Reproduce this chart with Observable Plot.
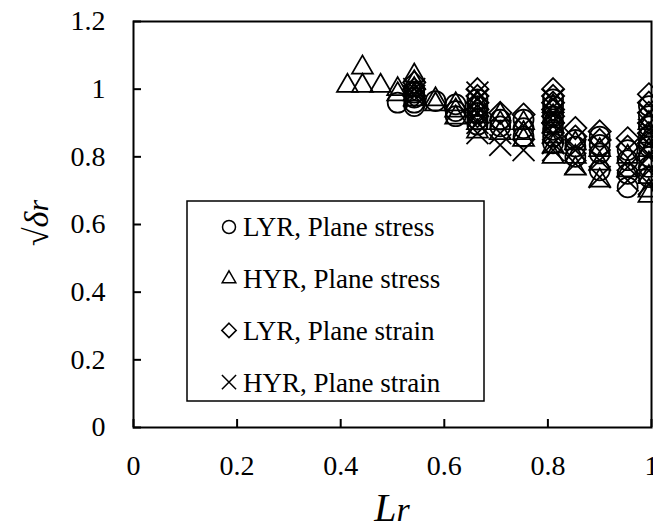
<!DOCTYPE html>
<html>
<head>
<meta charset="utf-8">
<script src="https://cdn.jsdelivr.net/npm/d3@7"></script>
<script src="https://cdn.jsdelivr.net/npm/@observablehq/plot@0.6"></script>
<style>
  html, body { margin: 0; padding: 0; background: #fff; }
  #chart { width: 653px; height: 528px; overflow: hidden; }
</style>
</head>
<body>
<div id="chart"></div>
<script>
// Axis ticks
const xTickValues = [0, 0.2, 0.4, 0.6, 0.8, 1];
const yTickValues = [0, 0.2, 0.4, 0.6, 0.8, 1, 1.2];

// Series: [Lr, sqrt(delta_r)]
const lyrPlaneStress = [
  [0.51, 0.96],
  [0.542, 0.99], [0.542, 0.975], [0.542, 0.96], [0.542, 0.95],
  [0.583, 0.965],
  [0.622, 0.955], [0.622, 0.935], [0.622, 0.92],
  [0.664, 0.97], [0.664, 0.95], [0.664, 0.93], [0.664, 0.91], [0.664, 0.895],
  [0.708, 0.91], [0.708, 0.89],
  [0.753, 0.91], [0.753, 0.885], [0.753, 0.86],
  [0.81, 0.97], [0.81, 0.95], [0.81, 0.92], [0.81, 0.9], [0.81, 0.88], [0.81, 0.86], [0.81, 0.84],
  [0.853, 0.85], [0.853, 0.83], [0.853, 0.8],
  [0.9, 0.86], [0.9, 0.835], [0.9, 0.81], [0.9, 0.76],
  [0.954, 0.82], [0.954, 0.79], [0.954, 0.75], [0.954, 0.71],
  [0.995, 0.95], [0.995, 0.92], [0.995, 0.89], [0.995, 0.86], [0.995, 0.83], [0.995, 0.8], [0.995, 0.77], [0.995, 0.74]
];
const hyrPlaneStress = [
  [0.413, 1.01],
  [0.442, 1.064], [0.442, 1.01],
  [0.477, 1.01],
  [0.51, 1.0], [0.51, 0.985],
  [0.542, 1.04], [0.542, 1.02], [0.542, 1.0], [0.542, 0.985], [0.542, 0.97],
  [0.583, 0.97], [0.583, 0.955],
  [0.622, 0.955], [0.622, 0.937], [0.622, 0.916],
  [0.664, 0.96], [0.664, 0.94], [0.664, 0.92], [0.664, 0.9], [0.664, 0.875],
  [0.708, 0.925], [0.708, 0.9], [0.708, 0.87],
  [0.753, 0.9], [0.753, 0.87], [0.753, 0.85],
  [0.81, 0.95], [0.81, 0.92], [0.81, 0.89], [0.81, 0.86], [0.81, 0.83], [0.81, 0.8],
  [0.853, 0.84], [0.853, 0.8], [0.853, 0.765],
  [0.9, 0.82], [0.9, 0.78], [0.9, 0.73],
  [0.954, 0.8], [0.954, 0.76],
  [0.995, 0.9], [0.995, 0.86], [0.995, 0.82], [0.995, 0.78], [0.995, 0.74], [0.995, 0.7], [0.995, 0.685]
];
const lyrPlaneStrain = [
  [0.542, 1.02], [0.542, 1.0], [0.542, 0.98],
  [0.664, 1.0], [0.664, 0.98], [0.664, 0.96], [0.664, 0.94], [0.664, 0.92],
  [0.708, 0.93],
  [0.753, 0.925],
  [0.81, 1.0], [0.81, 0.98], [0.81, 0.96], [0.81, 0.94], [0.81, 0.92], [0.81, 0.9],
  [0.853, 0.885], [0.853, 0.86],
  [0.9, 0.875], [0.9, 0.85],
  [0.954, 0.855], [0.954, 0.83],
  [0.995, 0.985], [0.995, 0.96], [0.995, 0.93], [0.995, 0.9], [0.995, 0.87], [0.995, 0.84]
];
const hyrPlaneStrain = [
  [0.542, 1.0], [0.542, 0.98],
  [0.664, 0.99], [0.664, 0.97], [0.664, 0.93], [0.664, 0.9], [0.664, 0.87],
  [0.708, 0.87], [0.708, 0.835],
  [0.753, 0.82],
  [0.81, 0.97], [0.81, 0.93], [0.81, 0.9], [0.81, 0.87], [0.81, 0.84], [0.81, 0.82],
  [0.853, 0.82], [0.853, 0.78],
  [0.9, 0.79], [0.9, 0.74],
  [0.954, 0.77], [0.954, 0.73],
  [0.995, 0.93], [0.995, 0.88], [0.995, 0.84], [0.995, 0.8], [0.995, 0.76], [0.995, 0.72]
];

const seriesNames = ["LYR, Plane stress", "HYR, Plane stress", "LYR, Plane strain", "HYR, Plane strain"];
const seriesData = [lyrPlaneStress, hyrPlaneStress, lyrPlaneStrain, hyrPlaneStrain];
const plotSymbols = ["circle", "triangle2", "diamond2", "times"];
const legendSymbols = [d3.symbolCircle, d3.symbolTriangle2, d3.symbolDiamond2, d3.symbolTimes];

const serif = "'Liberation Serif', 'Times New Roman', Times, serif";

const dotMarks = seriesData.map((rows, i) =>
  Plot.dot(rows, {
    x: d => d[0],
    y: d => d[1],
    symbol: plotSymbols[i],
    r: 10,
    fill: "none",
    stroke: "black",
    strokeWidth: 1.75
  })
);

const chart = Plot.plot({
  width: 653,
  height: 528,
  marginLeft: 133,
  marginRight: 2,
  marginTop: 21,
  marginBottom: 101,
  style: { fontFamily: serif, fontSize: "28px", color: "black", background: "white", overflow: "hidden" },
  x: { domain: [0, 1] },
  y: { domain: [0, 1.2] },
  marks: [
    Plot.axisX({ ticks: xTickValues, tickSize: -8, tickPadding: 36, tickFormat: d => String(d), label: null, strokeWidth: 2 }),
    Plot.axisY({ ticks: yTickValues, tickSize: -8, tickPadding: 36, tickFormat: d => String(d), label: null, strokeWidth: 2 }),
    Plot.frame({ stroke: "black", strokeWidth: 2 }),
    ...dotMarks
  ]
});

const svg = d3.select(chart);

// Axis titles
svg.append("text")
  .attr("x", 392).attr("y", 521)
  .attr("text-anchor", "middle")
  .attr("font-family", serif)
  .attr("font-style", "italic")
  .attr("font-size", 40)
  .attr("fill", "black")
  .call(t => {
    t.append("tspan").text("L");
    t.append("tspan").attr("font-size", 34).text("r");
  });

svg.append("text")
  .attr("transform", "translate(48,223) rotate(-90)")
  .attr("text-anchor", "middle")
  .attr("font-family", serif)
  .attr("font-size", 34)
  .attr("fill", "black")
  .call(t => {
    t.append("tspan").text("\u221A");
    t.append("tspan").attr("font-style", "italic").text("\u03B4");
    t.append("tspan").attr("font-style", "italic").attr("font-size", 30).text("r");
  });

// Legend box
const legend = svg.append("g").attr("text-anchor", "start");
legend.append("rect")
  .attr("x", 187).attr("y", 201).attr("width", 297).attr("height", 200)
  .attr("fill", "white").attr("stroke", "black").attr("stroke-width", 1.5);

seriesNames.forEach((name, i) => {
  const cy = 227 + i * 51.7;
  legend.append("path")
    .attr("transform", `translate(229,${cy})`)
    .attr("d", d3.symbol(legendSymbols[i], Math.PI * 6.5 * 6.5)())
    .attr("fill", "none").attr("stroke", "black").attr("stroke-width", 1.5);
  legend.append("text")
    .attr("x", 243).attr("y", cy).attr("dy", "0.35em")
    .attr("text-anchor", "start")
    .attr("font-family", serif).attr("font-size", 27).attr("fill", "black")
    .text(name);
});

document.getElementById("chart").appendChild(chart);
</script>
</body>
</html>
